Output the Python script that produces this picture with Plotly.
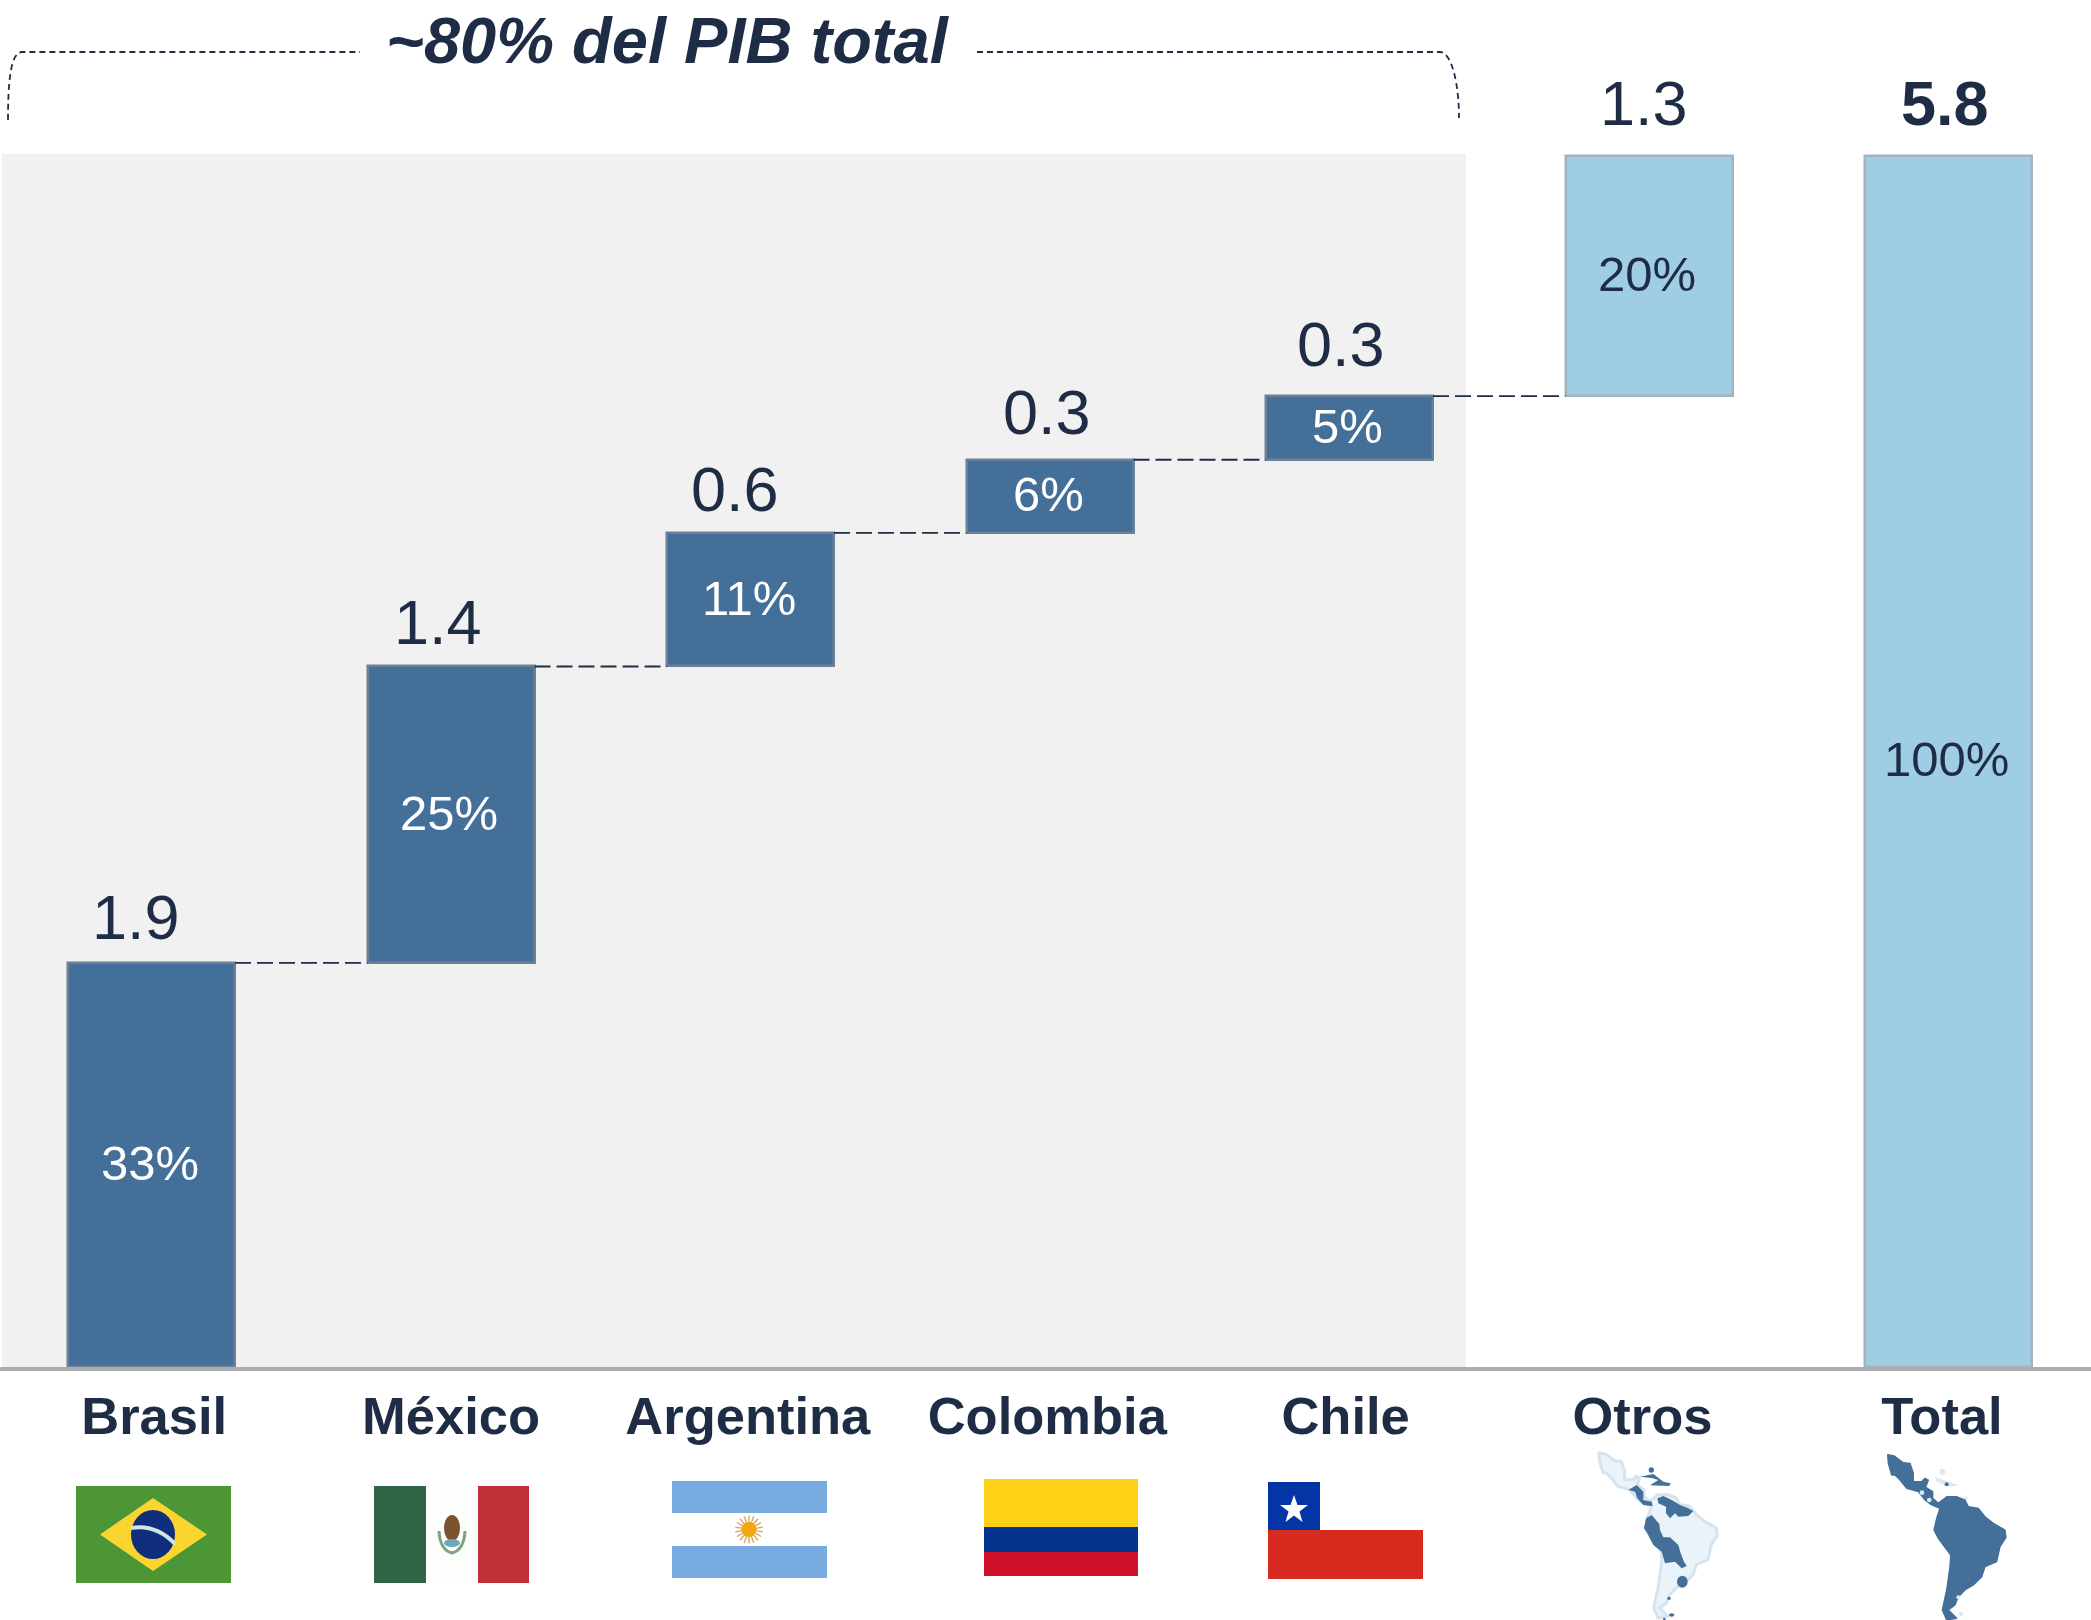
import base64
import plotly.graph_objects as go

categories = ["Brasil", "México", "Argentina", "Colombia", "Chile", "Otros", "Total"]
value_labels = ["1.9", "1.4", "0.6", "0.3", "0.3", "1.3", "5.8"]
share_labels = ["33%", "25%", "11%", "6%", "5%", "20%", "100%"]
bar_heights = [1.935, 1.42, 0.64, 0.35, 0.305, 1.15, 5.80]

NAVY = "#1e2d45"
DARK = "#436f99"
LIGHT = "#9fcde4"
FONT = "Liberation Sans, Helvetica, Arial, sans-serif"
W, H = 2091, 1620

bases = []
run = 0.0
for i, h in enumerate(bar_heights):
    if categories[i] == "Total":
        bases.append(0.0)
    else:
        bases.append(run)
        run += h
tops = [b + h for b, h in zip(bases, bar_heights)]
n = len(categories)
bar_w = 0.5576
colors = [DARK] * 5 + [LIGHT] * 2
edges = ["#6c8198"] * 5 + ["#a3b3bf"] * 2
label_nudge = [0.009, 0, -0.009, -0.009, -0.013, -0.022, -0.022]


def svg_uri(body, vb):
    svg = f'<svg xmlns="http://www.w3.org/2000/svg" viewBox="{vb}" preserveAspectRatio="none">{body}</svg>'
    return "data:image/svg+xml;base64," + base64.b64encode(svg.encode()).decode()


def image(src, x0, y0, x1, y1):
    return dict(source=src, xref="paper", yref="paper", x=x0 / W, y=1 - y0 / H,
                sizex=(x1 - x0) / W, sizey=(y1 - y0) / H,
                xanchor="left", yanchor="top", sizing="stretch", layer="above")


brazil = ('<rect width="155" height="97" fill="#4d9635"/>'
          '<polygon points="77,12 131,48.5 77,85 24,48.5" fill="#fbd52f"/>'
          '<ellipse cx="77" cy="48.5" rx="22" ry="24.5" fill="#0f2f7e"/>'
          '<path d="M55,42 Q80,38 99,58" stroke="#cfe6e4" stroke-width="4" fill="none"/>')
mexico = ('<rect width="52" height="97" fill="#2f6545"/><rect x="52" width="52" height="97" fill="#fdfdfb"/>'
          '<rect x="104" width="51" height="97" fill="#bd3035"/>'
          '<ellipse cx="78" cy="42" rx="8" ry="13" fill="#7a5230"/>'
          '<path d="M65,45 Q66,64 78,67 Q90,64 91,45" stroke="#7fa27f" stroke-width="3" fill="none"/>'
          '<ellipse cx="78" cy="57" rx="8" ry="4" fill="#6ea6b8"/>')
rays = "".join(f'<rect x="76.3" y="34.5" width="1.4" height="28" fill="#d9a85a" transform="rotate({a} 77 48.5)"/>'
               for a in range(0, 180, 20))
argentina = ('<rect width="155" height="97" fill="#fff"/><rect width="155" height="32" fill="#78abe0"/>'
             '<rect y="65" width="155" height="32" fill="#78abe0"/>' + rays +
             '<circle cx="77" cy="48.5" r="7.5" fill="#f2a80f"/>')
colombia = ('<rect width="154" height="97" fill="#cf1029"/><rect width="154" height="73" fill="#05348f"/>'
            '<rect width="154" height="48" fill="#fdd116"/>')
chile = ('<rect width="155" height="97" fill="#d72b1f"/><rect width="155" height="48" fill="#fff"/>'
         '<rect width="52" height="48" fill="#0335a6"/>'
         '<polygon points="26,13 29.5,23 40,23 31.5,29.5 34.5,40 26,33.5 17.5,40 20.5,29.5 12,23 22.5,23" fill="#fff"/>')

silhouette = ("983,14 1003,18 1030,38 1050,40 1060,70 1060,95 1085,95 1095,85 1105,90 1097,112 1118,125 1118,145 "
              "1135,160 1160,140 1190,140 1215,150 1225,170 1255,175 1275,200 1300,220 1335,240 1338,262 1320,290 "
              "1310,335 1275,350 1265,380 1240,405 1215,420 1195,440 1185,465 1165,480 1190,505 1160,510 1147,480 "
              "1160,420 1170,350 1172,315 1135,265 1122,240 1130,205 1140,175 1115,165 1095,150 1075,125 1040,115 "
              "1020,90 1005,75 995,75 985,40")
maps = (
    f'<polygon points="{silhouette}" transform="translate(-866,-6)" fill="#eaf3f9" stroke="#d6e4ef" stroke-width="9" stroke-linejoin="round"/>'
    '<g fill="#436f99">'
    '<polygon points="205,120 230,105 250,125 250,150 275,155 278,168 250,165 232,145 225,125"/>'
    '<polygon points="292,145 310,138 335,150 360,165 385,175 400,183 385,198 355,200 345,190 330,205 318,190 318,170 295,160"/>'
    '<polygon points="258,205 275,195 298,222 300,240 310,262 330,262 355,285 362,310 372,335 380,348 365,355 345,335 315,340 305,305 280,285 262,250 252,235"/>'
    '<polygon points="240,80 280,72 310,95 332,100 328,108 270,106 295,90 275,84"/>'
    '<ellipse cx="367" cy="395" rx="16" ry="18"/><circle cx="274" cy="60" r="8"/>'
    '<circle cx="327" cy="445" r="5"/><ellipse cx="335" cy="495" rx="8" ry="5"/><circle cx="313" cy="507" r="4"/>'
    '</g>'
    '<g fill="#dce9f3"><polygon points="1125,80 1165,95 1198,105 1170,110 1130,95"/><circle cx="1147" cy="65" r="9"/><circle cx="1216" cy="145" r="6"/></g>'
    f'<polygon points="{silhouette}" fill="#436f99" stroke="#436f99" stroke-width="4" stroke-linejoin="round"/>'
    '<g fill="#dce9f3"><circle cx="1086" cy="128" r="7"/><circle cx="1108" cy="150" r="7"/><circle cx="1195" cy="442" r="6"/><circle cx="1203" cy="492" r="7"/></g>'
    '<circle cx="1160" cy="103" r="6" fill="#436f99"/>'
)

images = [
    image(svg_uri(brazil, "0 0 155 97"), 76, 1486, 231, 1583),
    image(svg_uri(mexico, "0 0 155 97"), 374, 1486, 529, 1583),
    image(svg_uri(argentina, "0 0 155 97"), 672, 1481, 827, 1578),
    image(svg_uri(colombia, "0 0 154 97"), 984, 1479, 1138, 1576),
    image(svg_uri(chile, "0 0 155 97"), 1268, 1482, 1423, 1579),
    image(svg_uri(maps, "0 0 1500 510"), 1560, 1450, 2060, 1620),
]

fig = go.Figure()
fig.add_trace(go.Bar(
    x=list(range(n)), y=bar_heights, base=bases, width=bar_w,
    marker=dict(color=colors, line=dict(color=edges, width=2.5)),
    hoverinfo="skip", showlegend=False,
))
for i in range(n - 2):
    fig.add_trace(go.Scatter(
        x=[i + bar_w / 2, i + 1 - bar_w / 2], y=[tops[i], tops[i]], mode="lines",
        line=dict(color=NAVY, width=1.8, dash="16px,6px"), hoverinfo="skip", showlegend=False,
    ))

value_shift = [-16, -13, -16, -3, -9, -5, -4]
value_raise = [9, 7, 7, 11, 15, 16, 16]
annotations = []
for i in range(n):
    annotations.append(dict(
        x=i, y=tops[i], xref="x", yref="y", text=("<b>%s</b>" if categories[i] == "Total" else "%s") % value_labels[i],
        showarrow=False, xanchor="center", yanchor="bottom", xshift=value_shift[i], yshift=value_raise[i],
        font=dict(family=FONT, size=63, color=NAVY),
    ))
    annotations.append(dict(
        x=i, y=bases[i] + bar_heights[i] / 2, xref="x", yref="y", text=share_labels[i],
        showarrow=False, xanchor="center", yanchor="middle", xshift=-2, yshift=2,
        font=dict(family=FONT, size=49, color="#ffffff" if i < 5 else NAVY),
    ))
annotations.append(dict(
    x=668 / W, y=1 - 40 / H, xref="paper", yref="paper", text="<b><i>~80% del PIB total</i></b>",
    showarrow=False, xanchor="center", yanchor="middle",
    font=dict(family=FONT, size=65, color=NAVY),
))


def px(x, y):
    return f"{x / W:.5f},{1 - y / H:.5f}"


shapes = [
    dict(type="rect", xref="x", yref="y", x0=-149.5 / 299.5, x1=(1466 - 151.5) / 299.5, y0=0, y1=5.81,
         fillcolor="#f1f1f1", line=dict(width=0), layer="below"),
    dict(type="path", xref="paper", yref="paper",
         path=f"M {px(8, 120)} C {px(8, 85)} {px(10, 52)} {px(22, 52)} L {px(360, 52)}",
         line=dict(color=NAVY, width=1.8, dash="6px,4px")),
    dict(type="path", xref="paper", yref="paper",
         path=f"M {px(977, 52)} L {px(1440, 52)} C {px(1452, 52)} {px(1459, 85)} {px(1459, 118)}",
         line=dict(color=NAVY, width=1.8, dash="6px,4px")),
]

fig.update_layout(
    width=W, height=H, margin=dict(l=0, r=0, t=0, b=0),
    paper_bgcolor="#ffffff", plot_bgcolor="#ffffff",
    xaxis=dict(range=[-151.5 / 299.5, (W - 151.5) / 299.5], tickmode="array",
               tickvals=[i + d for i, d in enumerate(label_nudge)],
               ticktext=categories, showgrid=False, zeroline=False, showline=True, linecolor="#acacac", linewidth=4,
               ticks="", tickfont=dict(family=FONT, size=52.5, color=NAVY, weight="bold"), automargin=False),
    yaxis=dict(range=[0, 1367 / 208.8], domain=[(H - 1367) / H, 1], visible=False),
    shapes=shapes, images=images, annotations=annotations, bargap=0,
)
fig.write_html("out.html", config=dict(displayModeBar=False),
               post_script="document.body.style.margin='0';document.documentElement.style.overflow='hidden';")
